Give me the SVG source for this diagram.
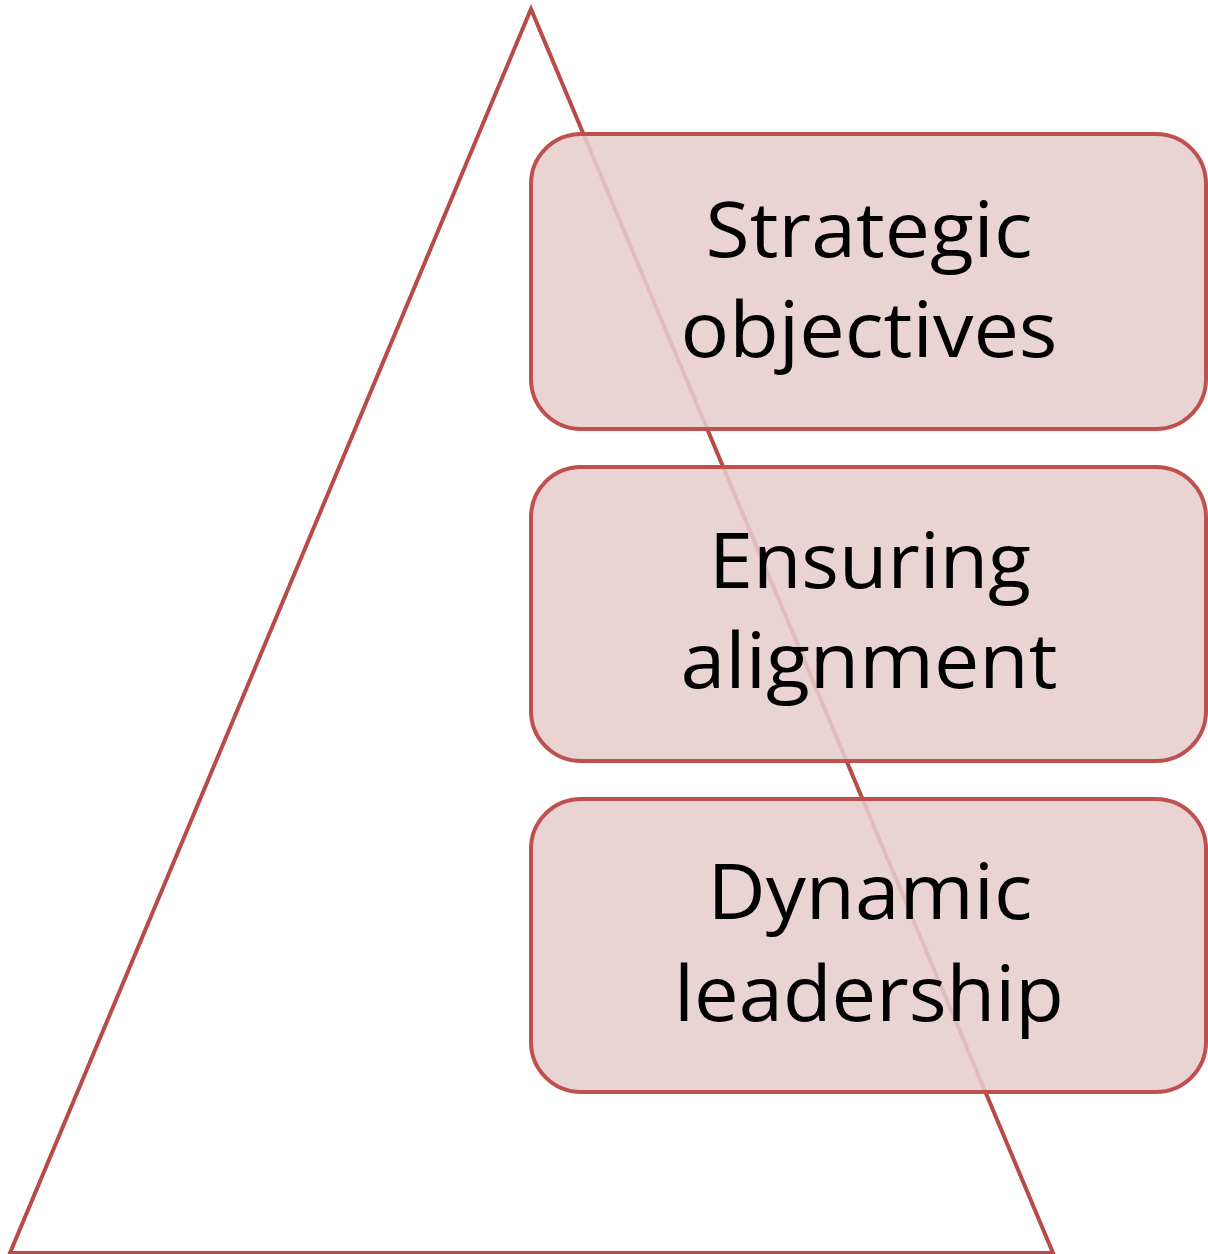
<svg xmlns="http://www.w3.org/2000/svg" width="1208" height="1254" viewBox="0 0 1208 1254">
<style>
.tri{fill:none;stroke:#B64B47;stroke-width:4;stroke-linejoin:miter}
.box{fill:#E6CDCD;fill-opacity:0.88;stroke:#C0504D;stroke-width:4}
.lbl{font-family:"Open Sans","Noto Sans","Liberation Sans",sans-serif;font-size:77px;fill:#000;text-anchor:middle}
</style>
<rect width="1208" height="1254" fill="#fff"/>
<g id="pyramid">
<path class="tri" d="M531,9 L1053,1253 L10,1253 Z"/>
</g>
<g id="connectors"></g>
<g id="node1">
<rect class="box" x="531" y="134" width="675" height="295" rx="50" ry="50"/>
<text class="lbl" x="869" y="257" textLength="327" lengthAdjust="spacingAndGlyphs">Strategic</text>
<text class="lbl" x="869" y="357" textLength="377" lengthAdjust="spacingAndGlyphs">objectives</text>
</g>
<g id="node2">
<rect class="box" x="531" y="467" width="675" height="294" rx="50" ry="50"/>
<text class="lbl" x="870" y="588" textLength="322" lengthAdjust="spacingAndGlyphs">Ensuring</text>
<text class="lbl" x="869" y="688" textLength="377" lengthAdjust="spacingAndGlyphs">alignment</text>
</g>
<g id="node3">
<rect class="box" x="531" y="799" width="675" height="293" rx="50" ry="50"/>
<text class="lbl" x="870" y="919" textLength="325" lengthAdjust="spacingAndGlyphs">Dynamic</text>
<text class="lbl" x="869" y="1021" textLength="390" lengthAdjust="spacingAndGlyphs">leadership</text>
</g>
</svg>
